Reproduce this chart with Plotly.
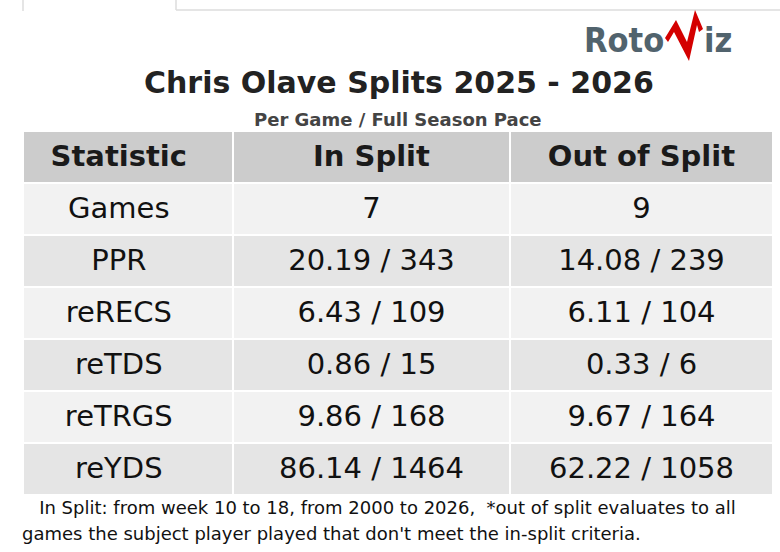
import plotly.graph_objects as go

W, H = 780, 552

columns = ["Statistic", "In Split", "Out of Split"]
statistics = ["Games", "PPR", "reRECS", "reTDS", "reTRGS", "reYDS"]
in_split = ["7", "20.19 / 343", "6.43 / 109", "0.86 / 15", "9.86 / 168", "86.14 / 1464"]
out_split = ["9", "14.08 / 239", "6.11 / 104", "0.33 / 6", "9.67 / 164", "62.22 / 1058"]

title = "Chris Olave Splits 2025 - 2026"
subtitle = "Per Game / Full Season Pace"
footer_lines = ["   In Split: from week 10 to 18, from 2000 to 2026,  *out of split evaluates to all",
                "games the subject player played that don't meet the in-split criteria."]

row_fills = ["#f2f2f2" if i % 2 == 0 else "#e5e5e5" for i in range(len(statistics))]


def px(x):
    return x / W


def py(y):
    return 1 - y / H


def shifted(v, pad=""):
    # trailing <br> disables plotly's word wrapping so the styled span stays intact
    return f"<span style='baseline-shift:-7px'>{v}{pad}</span><br>"


first_pad = "&nbsp;&nbsp;"

fig = go.Figure(go.Table(
    domain=dict(x=[px(23), px(773)], y=[py(495), py(131)]),
    columnwidth=[210, 277, 263],
    header=dict(
        values=[shifted(f"<b>{c}</b>", first_pad if i == 0 else "") for i, c in enumerate(columns)],
        fill_color="#cccccc",
        line=dict(color="white", width=2),
        font=dict(family="DejaVu Sans", size=29, color="#1a1a1a"),
        align="center",
        height=52,
    ),
    cells=dict(
        values=[[shifted(v, first_pad) for v in statistics],
                [shifted(v) for v in in_split],
                [shifted(v) for v in out_split]],
        fill_color=[row_fills] * 3,
        line=dict(color="white", width=2),
        font=dict(family="DejaVu Sans", size=29, color="#111111"),
        align="center",
        height=52,
    ),
))

shape_line = dict(color="#dddddd", width=1.5)
fig.add_shape(type="line", xref="paper", yref="paper", x0=px(23), x1=px(23), y0=py(0), y1=py(11), line=shape_line)
fig.add_shape(type="line", xref="paper", yref="paper", x0=px(176), x1=px(176), y0=py(0), y1=py(10), line=shape_line)
fig.add_shape(type="line", xref="paper", yref="paper", x0=px(176), x1=px(780), y0=py(10), y1=py(10), line=shape_line)

fig.add_annotation(text=f"<b>{title}</b>", x=px(399), y=py(82), xref="paper", yref="paper",
                   showarrow=False, font=dict(family="DejaVu Sans", size=30, color="#222222"),
                   xanchor="center", yanchor="middle")
fig.add_annotation(text=f"<b>{subtitle}</b>", x=px(398), y=py(120), xref="paper", yref="paper",
                   showarrow=False, font=dict(family="DejaVu Sans", size=18, color="#444444"),
                   xanchor="center", yanchor="middle")
for i, line in enumerate(footer_lines):
    fig.add_annotation(text=line, x=px(20), y=py(507 + 26 * i), xref="paper", yref="paper",
                       showarrow=False, align="left",
                       font=dict(family="DejaVu Sans", size=18, color="#111111"),
                       xanchor="left", yanchor="middle")

# RotoViz logo
logo_font = dict(family="DejaVu Sans Condensed, DejaVu Sans", size=34, color="#51636d")
fig.add_annotation(text="<b>Roto</b>", x=px(666), y=py(40), xref="paper", yref="paper", showarrow=False,
                   font=logo_font, xanchor="right", yanchor="middle")
fig.add_annotation(text="<b>iz</b>", x=px(702), y=py(40), xref="paper", yref="paper", showarrow=False,
                   font=logo_font, xanchor="left", yanchor="middle")
v_pts = [(665, 38), (676, 20), (687, 42), (695, 10), (703, 29), (699, 32),
         (697, 25), (689, 61), (674, 32), (668, 42)]
v_path = "M " + " L ".join(f"{px(x)},{py(y)}" for x, y in v_pts) + " Z"
fig.add_shape(type="path", xref="paper", yref="paper", path=v_path,
              fillcolor="#d40000", line=dict(width=0))

fig.update_layout(width=W, height=H, margin=dict(l=0, r=0, t=0, b=0),
                  paper_bgcolor="white", plot_bgcolor="white")

fig.write_html("out.html", config={"displayModeBar": False},
               post_script="document.body.style.margin='0';")
